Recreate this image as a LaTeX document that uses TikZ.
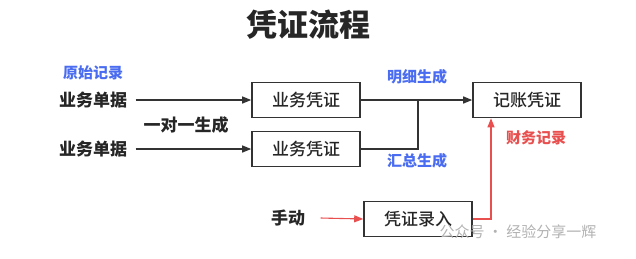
\documentclass[tikz,border=0pt]{standalone}
\usepackage{fontspec}
\setmainfont{Noto Sans CJK SC}
\newfontfamily\cjk{Noto Sans CJK SC}
\newfontfamily\cjkmed{Noto Sans CJK SC Medium}
\usetikzlibrary{arrows.meta,positioning}

\definecolor{linegray}{HTML}{333333}
\definecolor{tagblue}{HTML}{4A6CF0}
\definecolor{tagred}{HTML}{E8504F}

\begin{document}
\begin{tikzpicture}[
  x=1pt, y=-1pt,
  font=\cjkmed\fontsize{17}{19}\selectfont,
  box/.style={
    draw=linegray,
    line width=1.6pt,
    minimum width=108pt,
    minimum height=35pt,
    inner sep=0pt,
    text=black!85,
    font=\cjkmed\fontsize{17}{19}\selectfont
  },
  plain/.style={text=black!85, font=\cjk\bfseries\fontsize{17}{19}\selectfont},
  tag/.style={font=\cjk\bfseries\fontsize{15}{17}\selectfont},
  arrow/.style={-{Triangle[length=9pt,width=7pt]}, line width=1.3pt, draw=linegray},
  redarrow/.style={-{Triangle[length=9pt,width=7pt]}, line width=1.1pt, draw=tagred}
]
\useasboundingbox (0,0) rectangle (636,258);

\node[font=\cjk\bfseries\fontsize{31}{34}\selectfont, text=black!85] (title) at (308,25) {凭证流程};

% source documents
\node[tag, text=tagblue] (raw) at (93,73) {原始记录};
\node[plain] (doca) at (93,100) {业务单据};
\node[plain] (docb) at (93,149) {业务单据};
\node[plain] (onetoone) at (186,125) {一对一生成};

% vouchers
\node[box] (vouchera) at (306,100) {业务凭证};
\node[box] (voucherb) at (306,149) {业务凭证};
\node[box] (ledger) at (527,100) {记账凭证};
\node[box] (manualbox) at (418,219) {凭证录入};
\node[plain] (manual) at (288,218) {手动};

\node[tag, text=tagblue] (detail) at (417,77) {明细生成};
\node[tag, text=tagblue] (summary) at (417,161) {汇总生成};
\node[tag, text=tagred] (finance) at (536,138) {财务记录};

\coordinate (join) at (418,100);
\coordinate (redup) at (491,219);

\draw[arrow] (doca.east) ++(5pt,0) -- (vouchera.west);
\draw[arrow] (docb.east) ++(5pt,0) -- (voucherb.west);
\draw[arrow] (vouchera.east) -- (ledger.west);
\draw[line width=1.3pt, draw=linegray] (voucherb.east) -| (join);
\draw[redarrow] (manual.east) ++(12pt,0) -- (manualbox.west);
\draw[redarrow] (manualbox.east) -- (redup) -- (redup |- ledger.south);

% watermark
\node[text=black!30, font=\cjk\fontsize{15}{17}\selectfont, anchor=west] (mark) at (436,232) {公众号 · 经验分享一辉};
\end{tikzpicture}
\end{document}
